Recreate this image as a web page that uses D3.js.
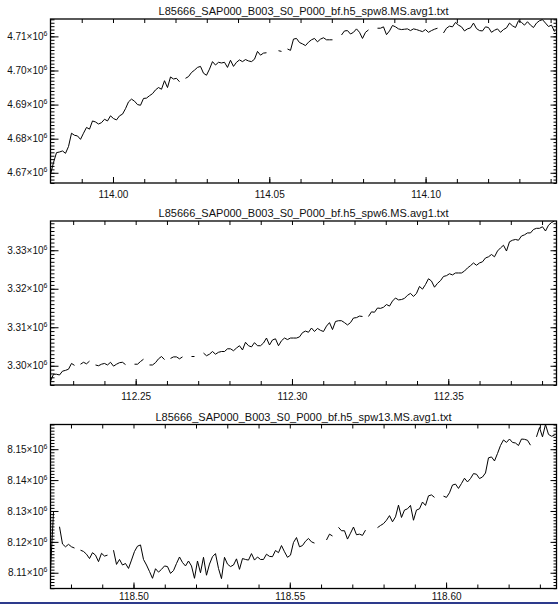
<!doctype html>
<html>
  <head>
    <script src="https://cdnjs.cloudflare.com/ajax/libs/d3/7.8.5/d3.min.js"></script>
    <style>
      body { margin: 0; background: #fff; }
      svg { display: block; font-family: "Liberation Sans", Arial, sans-serif; }
      path.trace { fill: none; stroke: #000; stroke-width: 1; }
      rect.frame { fill: none; stroke: #000; stroke-width: 1.3; }
      .axis path.domain { display: none; }
      .axis line { stroke: #000; stroke-width: 1; }
      .axis text { fill: #111; font-size: 10px; }
      text.title { fill: #111; font-size: 11px; }
    </style>
  </head>
  <body>
    <svg width="558" height="604"></svg>
    <script>
      // file names shown above each panel
      var titles = [
        "L85666_SAP000_B003_S0_P000_bf.h5_spw8.MS.avg1.txt",
        "L85666_SAP000_B003_S0_P000_bf.h5_spw6.MS.avg1.txt",
        "L85666_SAP000_B003_S0_P000_bf.h5_spw13.MS.avg1.txt"
      ];

      // frequency (MHz) of the first plotted channel, channel width, x range
      var freqStart = [113.98001, 112.22275, 118.47345];
      var chanWidth = 0.0009597;
      var xRange = [[113.98001, 114.14188], [112.22275, 112.38462], [118.47345, 118.63532]];

      // flux (x10^6) ranges and labelled ticks
      var yRange = [[4.6670, 4.7151], [3.2950, 3.3376], [8.1049, 8.1580]];
      var yTicks = [
        [4.67, 4.68, 4.69, 4.70, 4.71],
        [3.30, 3.31, 3.32, 3.33],
        [8.11, 8.12, 8.13, 8.14, 8.15]
      ];
      var xTicks = [
        [114.00, 114.05, 114.10],
        [112.25, 112.30, 112.35],
        [118.50, 118.55, 118.60]
      ];

      // channel values (x10^6), null = flagged channel
      var spw8 = [
        4.6695,4.6730,4.6759,4.6761,4.6764,4.6757,4.6777,4.6816,4.6810,4.6808,
        4.6798,4.6816,4.6833,4.6828,4.6852,4.6849,4.6843,4.6847,4.6857,4.6852,
        4.6867,4.6859,4.6855,4.6867,4.6872,4.6888,4.6908,4.6916,4.6910,4.6900,
        4.6898,4.6918,4.6919,4.6926,4.6932,4.6943,4.6950,4.6945,4.6970,4.6950,
        4.6981,4.6975,4.6977,4.6967,null,4.6977,4.6982,4.6994,4.7001,4.7009,
        4.7012,4.6992,4.6986,4.7004,4.7026,4.7016,4.7024,4.7022,4.7024,4.7009,
        4.7030,4.7012,4.7024,4.7031,4.7026,4.7032,4.7028,4.7026,4.7033,4.7056,
        4.7045,4.7051,4.7052,null,null,null,4.7058,4.7056,null,4.7063,
        4.7059,4.7092,4.7094,4.7082,4.7078,4.7073,4.7083,4.7090,4.7094,4.7084,
        4.7092,4.7096,4.7090,4.7090,4.7090,null,null,4.7104,4.7116,4.7117,
        4.7107,4.7112,4.7122,4.7112,4.7094,4.7112,4.7119,null,null,4.7124,
        4.7124,4.7128,4.7105,4.7116,4.7132,4.7128,4.7122,4.7120,4.7121,4.7122,
        4.7117,4.7122,4.7120,4.7117,4.7114,4.7120,4.7112,4.7117,4.7121,4.7124,
        null,4.7110,4.7124,4.7130,4.7128,4.7141,4.7133,4.7128,4.7116,4.7122,
        4.7125,4.7139,4.7123,4.7117,4.7116,4.7128,4.7126,4.7112,4.7118,4.7122,
        4.7112,4.7120,4.7125,4.7139,4.7131,4.7126,4.7146,4.7141,4.7133,4.7143,
        4.7133,4.7126,4.7139,4.7146,4.7149,4.7139,4.7129,4.7133,4.7114
      ];

      var spw6 = [
        3.2960,3.2978,3.2978,3.2976,3.2986,3.2988,3.2991,3.3006,3.3001,null,
        3.3004,3.3009,3.3005,3.3012,null,3.3002,3.3000,3.3004,3.3006,3.3002,
        3.3009,3.2999,3.3004,3.3008,3.3009,3.3003,null,null,3.3004,3.3004,
        3.3011,3.3017,null,3.3002,3.3002,3.3008,3.3018,3.3024,3.3016,null,
        3.3019,3.3023,3.3023,3.3018,3.3023,null,null,3.3024,3.3024,null,
        null,3.3033,3.3026,3.3030,3.3037,3.3030,3.3035,3.3037,3.3037,3.3044,
        3.3044,3.3039,3.3046,3.3052,3.3041,3.3061,3.3052,3.3049,3.3060,3.3052,
        3.3052,3.3059,3.3072,3.3054,3.3067,3.3070,3.3052,3.3065,3.3072,3.3068,
        3.3072,3.3072,3.3072,3.3075,3.3086,3.3090,3.3087,3.3098,3.3089,3.3097,
        3.3092,3.3089,3.3103,3.3112,3.3094,3.3115,3.3117,3.3117,3.3112,3.3106,
        3.3112,3.3124,3.3125,3.3129,3.3128,null,3.3128,3.3140,3.3139,3.3150,
        3.3149,3.3152,3.3159,3.3155,3.3168,3.3176,3.3171,3.3172,3.3175,3.3183,
        3.3188,3.3180,3.3188,3.3206,3.3199,3.3211,3.3226,3.3220,3.3204,3.3214,
        3.3221,3.3232,3.3234,3.3239,3.3236,3.3241,3.3241,3.3241,3.3246,3.3254,
        3.3260,3.3267,3.3261,3.3267,3.3270,3.3280,3.3283,3.3289,3.3283,3.3298,
        3.3306,3.3313,3.3298,3.3322,3.3326,3.3328,3.3326,3.3337,3.3340,3.3345,
        3.3345,3.3354,3.3357,3.3357,3.3361,3.3350,3.3365,3.3372,3.3376
      ];

      var spw13 = [
        8.1109,8.1297,null,8.1249,8.1193,8.1184,8.1192,8.1184,8.1180,null,
        8.1173,8.1169,8.1160,8.1146,8.1165,8.1157,8.1136,8.1163,8.1154,8.1157,
        null,8.1173,8.1127,8.1143,8.1125,8.1130,8.1114,8.1141,8.1169,8.1186,
        8.1190,8.1143,8.1125,8.1104,8.1082,8.1113,8.1102,8.1111,8.1122,8.1120,
        8.1098,8.1107,8.1130,8.1151,8.1133,8.1122,8.1138,8.1122,8.1082,8.1138,
        8.1100,8.1150,8.1092,8.1128,8.1152,8.1162,8.1114,8.1081,8.1150,8.1128,
        8.1120,8.1125,8.1145,8.1111,8.1146,8.1143,8.1141,8.1162,8.1141,8.1151,
        8.1143,8.1143,8.1160,8.1153,8.1152,8.1172,8.1165,8.1188,8.1168,8.1150,
        8.1157,8.1198,8.1214,8.1184,8.1188,8.1202,8.1211,8.1200,8.1196,null,
        null,null,8.1206,8.1225,8.1219,null,8.1247,8.1236,8.1236,8.1209,
        8.1228,8.1248,8.1223,8.1225,8.1221,8.1238,null,null,null,8.1246,
        8.1253,8.1259,8.1270,8.1285,8.1265,8.1281,8.1319,8.1279,8.1303,8.1307,
        8.1318,8.1270,8.1303,8.1307,8.1329,8.1318,8.1349,8.1352,8.1344,null,
        null,8.1348,8.1344,8.1359,8.1384,8.1387,8.1373,8.1389,8.1406,8.1394,
        8.1405,8.1421,8.1419,8.1405,8.1410,8.1423,8.1472,8.1475,8.1462,8.1486,
        8.1512,8.1530,8.1522,8.1533,8.1522,8.1520,8.1512,8.1533,8.1532,8.1529,
        8.1513,null,8.1540,8.1570,8.1540,8.1580,8.1548,8.1542,8.1545
      ];

      var series = [spw8, spw6, spw13];

      var svg = d3.select("svg");
      var left = 50.5, right = 556.5, boxH = 164;
      var tops = [19, 221, 424.5];
      var labelPad = [8, 8, 4];

      // ticks every step between lo and hi, built on integers to avoid drift
      function steps(lo, hi, per) {
        return d3.range(Math.ceil(lo * per - 1e-6), Math.floor(hi * per + 1e-6) + 1).map(v => v / per);
      }

      series.forEach(function (vals, p) {
        var top = tops[p], bottom = top + boxH;
        var x = d3.scaleLinear().domain(xRange[p]).range([left, right]);
        var y = d3.scaleLinear().domain(yRange[p]).range([bottom, top]);
        var g = svg.append("g");

        g.append("clipPath").attr("id", "clip" + p)
          .append("rect")
            .attr("x", left).attr("y", top)
            .attr("width", right - left).attr("height", boxH);

        var line = d3.line()
          .defined(d => d != null)
          .x((d, i) => x(freqStart[p] + i * chanWidth))
          .y(d => y(d));

        g.append("path")
            .datum(vals)
            .attr("class", "trace")
            .attr("clip-path", "url(#clip" + p + ")")
            .attr("d", line);

        var yMinor = steps(yRange[p][0], yRange[p][1], 1000);
        var xMinor = steps(xRange[p][0], xRange[p][1], 100);

        // left axis: minor comb + labelled majors
        g.append("g").attr("class", "axis")
            .attr("transform", "translate(" + left + ",0)")
            .call(d3.axisLeft(y).tickValues(yMinor).tickSizeInner(-4).tickSizeOuter(0).tickFormat(""));
        var ly = g.append("g").attr("class", "axis")
            .attr("transform", "translate(" + left + ",0)")
            .call(d3.axisLeft(y).tickValues(yTicks[p]).tickSizeInner(-8).tickSizeOuter(0).tickPadding(3));
        ly.selectAll("text").each(function (d) {
          var t = d3.select(this).text("");
          t.append("tspan").text(d.toFixed(2) + "\u00d710");
          t.append("tspan").attr("dy", "-4").style("font-size", "7px").text("6");
        });

        // right axis
        g.append("g").attr("class", "axis")
            .attr("transform", "translate(" + right + ",0)")
            .call(d3.axisRight(y).tickValues(yMinor).tickSizeInner(-3).tickSizeOuter(0).tickFormat(""));
        g.append("g").attr("class", "axis")
            .attr("transform", "translate(" + right + ",0)")
            .call(d3.axisRight(y).tickValues(yTicks[p]).tickSizeInner(-6).tickSizeOuter(0).tickFormat(""));

        // top axis
        g.append("g").attr("class", "axis")
            .attr("transform", "translate(0," + top + ")")
            .call(d3.axisTop(x).tickValues(xMinor).tickSizeInner(-4).tickSizeOuter(0).tickFormat(""));

        // bottom axis
        g.append("g").attr("class", "axis")
            .attr("transform", "translate(0," + bottom + ")")
            .call(d3.axisBottom(x).tickValues(xMinor).tickSizeInner(-4).tickSizeOuter(0).tickFormat(""));
        g.append("g").attr("class", "axis")
            .attr("transform", "translate(0," + bottom + ")")
            .call(d3.axisBottom(x).tickValues(xTicks[p]).tickSizeInner(-6).tickSizeOuter(0)
              .tickPadding(labelPad[p]).tickFormat(d3.format(".2f")));

        g.append("rect").attr("class", "frame")
            .attr("x", left).attr("y", top)
            .attr("width", right - left).attr("height", boxH);

        g.append("text").attr("class", "title")
            .attr("x", (left + right) / 2).attr("y", top - 4)
            .attr("text-anchor", "middle")
            .text(titles[p]);
      });

      // window border strip at the bottom edge
      svg.append("rect")
          .attr("x", 0).attr("y", 602)
          .attr("width", 558).attr("height", 2)
          .attr("fill", "#2d3a8c");
    </script>
  </body>
</html>
